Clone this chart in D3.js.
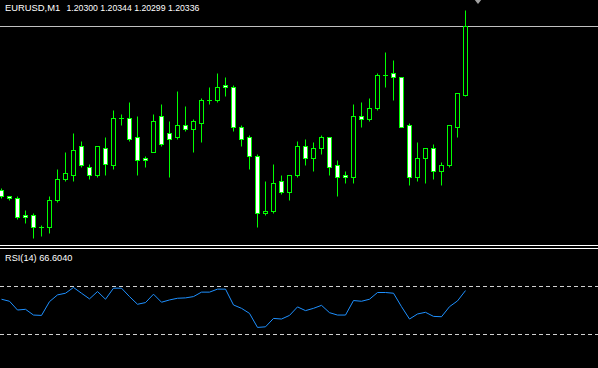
<!DOCTYPE html>
<html><head><meta charset="utf-8">
<script src="https://cdn.jsdelivr.net/npm/d3@7"></script>
<style>html,body{margin:0;padding:0;background:#000;overflow:hidden}svg{display:block}</style>
</head><body><svg id="c" width="598" height="368"></svg>
<script>
const symbol = "EURUSD,M1";
const opens = [1.20250,1.20247,1.20246,1.20237,1.20237,1.20231,1.20231,1.20245,1.20256,1.20258,1.20273,1.20262,1.20258,1.20272,1.20263,1.20288,1.20288,1.20278,1.20267,1.20270,1.20289,1.20280,1.20278,1.20284,1.20282,1.20285,1.20297,1.20297,1.20305,1.20304,1.20283,1.20278,1.20268,1.20238,1.20239,1.20255,1.20249,1.20258,1.20273,1.20267,1.20272,1.20278,1.20263,1.20258,1.20257,1.20289,1.20287,1.20293,1.20310,1.20311,1.20309,1.20284,1.20257,1.20267,1.20272,1.20260,1.20263,1.20283,1.20300];
const highs = [1.20251,1.20247,1.20247,1.20240,1.20238,1.20232,1.20247,1.20261,1.20270,1.20280,1.20276,1.20264,1.20273,1.20278,1.20292,1.20290,1.20296,1.20289,1.20268,1.20290,1.20295,1.20286,1.20302,1.20294,1.20287,1.20298,1.20304,1.20311,1.20309,1.20305,1.20284,1.20279,1.20269,1.20255,1.20264,1.20258,1.20258,1.20276,1.20277,1.20275,1.20279,1.20278,1.20266,1.20260,1.20295,1.20296,1.20298,1.20311,1.20322,1.20318,1.20309,1.20285,1.20275,1.20272,1.20274,1.20265,1.20284,1.20301,1.20344];
const lows = [1.20246,1.20245,1.20235,1.20233,1.20225,1.20226,1.20228,1.20244,1.20255,1.20255,1.20262,1.20256,1.20257,1.20258,1.20261,1.20284,1.20276,1.20258,1.20262,1.20270,1.20273,1.20257,1.20277,1.20281,1.20270,1.20275,1.20295,1.20296,1.20299,1.20281,1.20273,1.20261,1.20231,1.20237,1.20238,1.20248,1.20245,1.20257,1.20263,1.20260,1.20269,1.20258,1.20247,1.20254,1.20254,1.20283,1.20286,1.20292,1.20304,1.20297,1.20283,1.20253,1.20255,1.20254,1.20256,1.20253,1.20262,1.20278,1.20299];
const closes = [1.20247,1.20246,1.20236,1.20236,1.20231,1.20231,1.20245,1.20256,1.20259,1.20271,1.20263,1.20258,1.20273,1.20264,1.20288,1.20288,1.20277,1.20266,1.20266,1.20286,1.20274,1.20277,1.20284,1.20282,1.20286,1.20297,1.20297,1.20304,1.20304,1.20283,1.20277,1.20268,1.20238,1.20239,1.20254,1.20249,1.20258,1.20273,1.20267,1.20272,1.20278,1.20262,1.20257,1.20257,1.20289,1.20287,1.20293,1.20310,1.20310,1.20309,1.20283,1.20257,1.20267,1.20272,1.20260,1.20263,1.20284,1.20301,1.20336];
const rsiValues = [59.4,57.7,50.4,51.0,46.2,45.9,57.4,63.0,64.4,69.2,64.4,59.7,65.8,59.4,68.6,68.6,61.6,55.2,56.6,63.6,56.9,58.8,60.2,60.5,61.6,65.3,65.3,67.8,67.8,54.6,51.8,47.6,35.9,36.4,43.4,42.9,45.9,53.0,49.9,51.8,54.3,48.2,46.2,46.2,58.3,57.7,59.4,65.0,65.0,64.4,53.2,42.9,47.1,48.5,45.1,44.8,53.2,58.0,66.6040];
const rsiLevels = [70, 30];
const rsiLabel = "RSI(14)";

const W = 598, H = 368;
const GREEN = "#00ff00";
const FONT = "'Liberation Sans', Arial, sans-serif";
const svg = d3.select("#c");
svg.append("rect").attr("width", W).attr("height", H).attr("fill", "#000");

const n = opens.length;
const last = n - 1;
const x = d3.scaleLinear().domain([0, last]).range([1.5, 465.5]);
const y = d3.scaleLinear().domain([closes[last], opens[last]]).range([25.5, 94.5]);

const main = svg.append("g");
main.append("clipPath").attr("id", "mc").append("rect").attr("x", 0).attr("y", 0).attr("width", W).attr("height", 245);
const plot = main.append("g").attr("clip-path", "url(#mc)");

// bid line
plot.append("line").attr("x1", 0).attr("x2", W)
  .attr("y1", Math.round(y(closes[last])) + 0.5).attr("y2", Math.round(y(closes[last])) + 0.5)
  .attr("stroke", "#c0c0c0").attr("stroke-width", 1);

const idx = d3.range(n);
const cg = plot.selectAll("g.candle").data(idx).join("g").attr("class", "candle");
cg.append("line")
  .attr("x1", i => x(i)).attr("x2", i => x(i))
  .attr("y1", i => Math.round(y(highs[i])) + 0.5).attr("y2", i => Math.round(y(lows[i])) + 0.5)
  .attr("stroke", GREEN).attr("stroke-width", 1);
cg.filter(i => opens[i] !== closes[i]).append("rect")
  .attr("x", i => x(i) - 2).attr("width", 4)
  .attr("y", i => Math.round(y(Math.max(opens[i], closes[i]))) + 0.5)
  .attr("height", i => Math.max(1, Math.round(y(Math.min(opens[i], closes[i]))) - Math.round(y(Math.max(opens[i], closes[i])))))
  .attr("fill", i => closes[i] > opens[i] ? "#000" : "#ffffff")
  .attr("stroke", GREEN).attr("stroke-width", 1);
cg.filter(i => opens[i] === closes[i]).append("line")
  .attr("x1", i => x(i) - 2.5).attr("x2", i => x(i) + 2.5)
  .attr("y1", i => Math.round(y(opens[i])) + 0.5).attr("y2", i => Math.round(y(opens[i])) + 0.5)
  .attr("stroke", GREEN).attr("stroke-width", 1);

// shift marker
main.append("path").attr("d", "M474,-1 L482,-1 L478,4 Z").attr("fill", "#a0a0a0");

// header text
svg.append("text").attr("x", 5).attr("y", 11)
  .attr("font-family", FONT).attr("font-size", 9.4)
  .attr("fill", "#ffffff").text(symbol);
svg.append("text").attr("x", 66.5).attr("y", 11)
  .attr("font-family", FONT).attr("font-size", 8.7)
  .attr("fill", "#ffffff")
  .text(`${opens[last].toFixed(5)} ${highs[last].toFixed(5)} ${lows[last].toFixed(5)} ${closes[last].toFixed(5)}`);

// separators
svg.append("line").attr("x1", 0).attr("x2", W).attr("y1", 245.5).attr("y2", 245.5).attr("stroke", "#ffffff");
svg.append("line").attr("x1", 0).attr("x2", W).attr("y1", 248.5).attr("y2", 248.5).attr("stroke", "#ffffff");

// RSI window
const ry = d3.scaleLinear().domain([30, 70]).range([334.5, 286.5]);
svg.selectAll("line.lvl").data(rsiLevels).join("line").attr("class", "lvl")
  .attr("x1", 0).attr("x2", W).attr("y1", d => ry(d)).attr("y2", d => ry(d))
  .attr("stroke", "#d0d0d0").attr("stroke-width", 1).attr("stroke-dasharray", "4,3");
svg.append("path").datum(rsiValues)
  .attr("d", d3.line().x((d, i) => x(i)).y(d => ry(d)))
  .attr("fill", "none").attr("stroke", "#1e90ff").attr("stroke-width", 1);
svg.append("text").attr("x", 5).attr("y", 261)
  .attr("font-family", FONT).attr("font-size", 9.2)
  .attr("fill", "#ffffff")
  .text(`${rsiLabel} ${rsiValues[last].toFixed(4)}`);
</script>
</body></html>
